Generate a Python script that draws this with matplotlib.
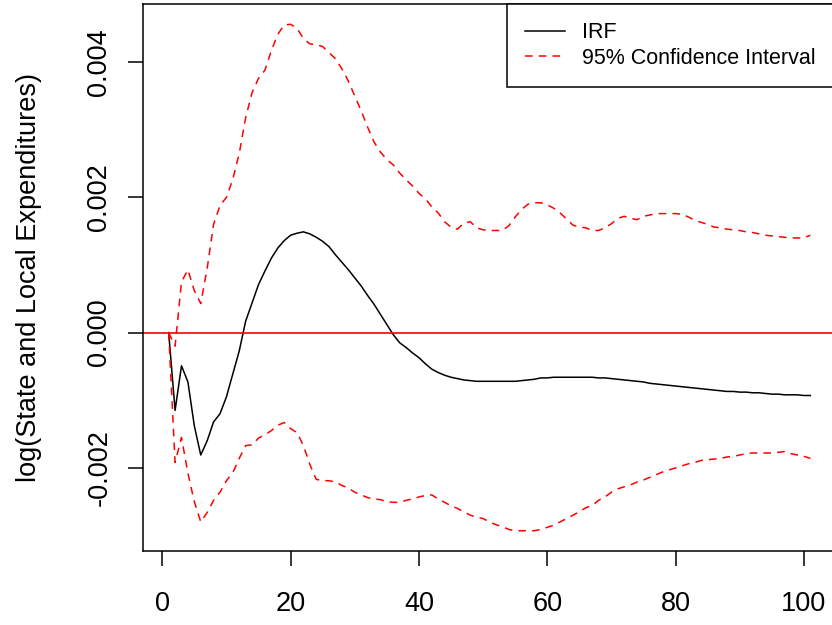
import numpy as np
import matplotlib
matplotlib.use("Agg")
import matplotlib.pyplot as plt

# impulse response horizon (R index 1..101)
horizon = np.arange(1, 102)

# values, in units of 0.001
irf = [
    0.00, -1.15, -0.49, -0.73, -1.38, -1.81, -1.60, -1.32, -1.20, -0.95,
    -0.61, -0.27, 0.17, 0.44, 0.71, 0.91, 1.10, 1.25, 1.36, 1.44,
    1.47, 1.49, 1.46, 1.41, 1.35, 1.27, 1.15, 1.04, 0.93, 0.81,
    0.69, 0.55, 0.42, 0.27, 0.12, -0.03, -0.15, -0.22, -0.30, -0.37,
    -0.46, -0.54, -0.59, -0.63, -0.66, -0.68, -0.70, -0.71, -0.72, -0.72,
    -0.72, -0.72, -0.72, -0.72, -0.72, -0.71, -0.70, -0.69, -0.67, -0.67,
    -0.66, -0.66, -0.66, -0.66, -0.66, -0.66, -0.66, -0.67, -0.67, -0.68,
    -0.69, -0.70, -0.71, -0.72, -0.73, -0.75, -0.76, -0.77, -0.78, -0.79,
    -0.80, -0.81, -0.82, -0.83, -0.84, -0.85, -0.86, -0.87, -0.87, -0.88,
    -0.88, -0.89, -0.89, -0.90, -0.91, -0.91, -0.92, -0.92, -0.92, -0.93,
    -0.93,
]

upper = [
    0.00, -0.20, 0.75, 0.93, 0.62, 0.43, 0.95, 1.60, 1.88, 2.00,
    2.27, 2.65, 3.18, 3.55, 3.76, 3.88, 4.17, 4.41, 4.55, 4.56,
    4.50, 4.35, 4.27, 4.26, 4.23, 4.14, 4.05, 3.90, 3.72, 3.50,
    3.28, 3.04, 2.82, 2.67, 2.56, 2.48, 2.36, 2.26, 2.17, 2.06,
    1.98, 1.86, 1.77, 1.64, 1.56, 1.53, 1.62, 1.64, 1.55, 1.52,
    1.51, 1.51, 1.51, 1.58, 1.71, 1.82, 1.90, 1.92, 1.92, 1.89,
    1.84, 1.77, 1.68, 1.59, 1.56, 1.55, 1.51, 1.51, 1.55, 1.61,
    1.69, 1.72, 1.69, 1.67, 1.72, 1.74, 1.76, 1.76, 1.76, 1.76,
    1.75, 1.71, 1.66, 1.63, 1.60, 1.56, 1.55, 1.53, 1.52, 1.51,
    1.49, 1.48, 1.46, 1.44, 1.43, 1.42, 1.41, 1.40, 1.40, 1.40,
    1.44,
]

lower = [
    0.00, -1.92, -1.55, -2.08, -2.50, -2.80, -2.66, -2.48, -2.36, -2.19,
    -2.07, -1.86, -1.67, -1.66, -1.56, -1.51, -1.45, -1.37, -1.33, -1.42,
    -1.48, -1.67, -1.95, -2.17, -2.19, -2.19, -2.21, -2.26, -2.30, -2.36,
    -2.40, -2.44, -2.46, -2.47, -2.50, -2.51, -2.51, -2.48, -2.46, -2.43,
    -2.41, -2.40, -2.46, -2.51, -2.56, -2.60, -2.65, -2.70, -2.73, -2.75,
    -2.80, -2.84, -2.87, -2.91, -2.93, -2.93, -2.93, -2.93, -2.91, -2.88,
    -2.85, -2.80, -2.75, -2.70, -2.65, -2.59, -2.56, -2.48, -2.43, -2.36,
    -2.31, -2.28, -2.25, -2.21, -2.18, -2.14, -2.10, -2.06, -2.03, -2.00,
    -1.97, -1.94, -1.92, -1.89, -1.88, -1.87, -1.86, -1.84, -1.83, -1.81,
    -1.79, -1.78, -1.78, -1.78, -1.78, -1.77, -1.76, -1.79, -1.81, -1.83,
    -1.86,
]

x_ticks = [0, 20, 40, 60, 80, 100]
y_ticks = [-0.002, 0.0, 0.002, 0.004]
y_tick_labels = ["-0.002", "0.000", "0.002", "0.004"]
y_label = "log(State and Local Expenditures)"
legend_labels = ["IRF", "95% Confidence Interval"]

plt.rcParams["font.family"] = ["Liberation Sans", "DejaVu Sans"]

irf = np.array(irf) * 1e-3
upper = np.array(upper) * 1e-3
lower = np.array(lower) * 1e-3

W, H = 832, 625
fig = plt.figure(figsize=(W / 100, H / 100), dpi=100)
# plot box in pixels: left 143, right 836 (runs past the edge), top 4, bottom 551
left, right, top, bottom = 143, 836, 4, 551
ax = fig.add_axes([left / W, 1 - bottom / H, (right - left) / W, (bottom - top) / H])

ax.plot(horizon, irf, color="black", lw=1.1, label=legend_labels[0])
ax.plot(horizon, upper, color="red", lw=1.1, dashes=(5, 4), label=legend_labels[1])
ax.plot(horizon, lower, color="red", lw=1.1, dashes=(5, 4))
ax.axhline(0, color="red", lw=1.2)

# R style 4% padding on both axes
xr = horizon.max() - horizon.min()
ax.set_xlim(horizon.min() - 0.04 * xr, horizon.max() + 0.04 * xr)
ymin = min(lower.min(), irf.min())
ymax = max(upper.max(), irf.max())
yr = ymax - ymin
ax.set_ylim(ymin - 0.04 * yr, ymax + 0.04 * yr)

ax.set_xticks(x_ticks)
ax.set_xticklabels([str(t) for t in x_ticks])
ax.set_yticks(y_ticks)
ax.set_yticklabels(y_tick_labels, rotation=90, va="center")

ax.tick_params(axis="both", direction="out", length=11, width=1.1,
               labelsize=19.5, color="black")
ax.tick_params(axis="x", pad=18)
ax.tick_params(axis="y", pad=11)
for sp in ax.spines.values():
    sp.set_linewidth(1.1)

ax.set_ylabel(y_label, fontsize=19.5)
ax.yaxis.set_label_coords((42 - left) / (right - left), 0.5)

leg = ax.legend(loc="upper left",
                bbox_to_anchor=((507 - left) / (right - left), 1.0),
                borderaxespad=0, fancybox=False, edgecolor="black",
                framealpha=1, fontsize=15.5, handlelength=1.85,
                handletextpad=0.8, borderpad=0.85, labelspacing=0.2)
leg.get_frame().set_linewidth(1.1)

fig.savefig("out.png", dpi=100)
